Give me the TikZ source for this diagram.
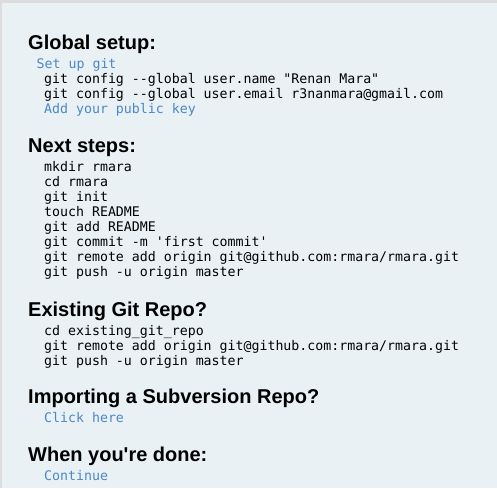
\documentclass[tikz,border=0pt]{standalone}
\usepackage{fontspec}
\setmainfont{Liberation Sans}[Ligatures=TeXOff]
\setmonofont{DejaVu Sans Mono}
\usepackage{xcolor}
\definecolor{framegray}{HTML}{DCDCDC}
\definecolor{pagebg}{HTML}{E9F1F5}
\definecolor{linkblue}{HTML}{4A88C9}
\newcommand{\headsize}{\fontsize{20}{24}\selectfont}
\newcommand{\codesize}{\fontsize{13.25}{15}\selectfont}

\begin{document}
\begin{tikzpicture}[x=1pt,y=-1pt]
            \fill[framegray] (0,0) rectangle (497,488);
            \fill[pagebg] (2,3) rectangle (497,488);
            \useasboundingbox (0,0) rectangle (497,488);

            \begin{scope}[every node/.style={anchor=base west,inner sep=0pt},
                heading/.style={font=\headsize\bfseries},
                code/.style={font=\codesize\ttfamily,text=black},
                link/.style={font=\codesize\ttfamily,text=linkblue}]
                % global setup
                \node[heading] (global) at (28,49) {Global setup:};
                \node[link] (setup) at (36.5,68) {Set up git};
                \node[code] (gname) at (44,83) {git config --global user.name "Renan Mara"};
                \node[code] (gmail) at (44,98) {git config --global user.email r3nanmara@gmail.com};
                \node[link] (key) at (44,113) {Add your public key};

                % next steps
                \node[heading] (next) at (28,152) {Next steps:};
                \node[code] (mkdir) at (44,171) {mkdir rmara};
                \node[code] (cd) at (44,186) {cd rmara};
                \node[code] (init) at (44,201) {git init};
                \node[code] (touch) at (44,216) {touch README};
                \node[code] (add) at (44,231) {git add README};
                \node[code] (commit) at (44,246) {git commit -m 'first commit'};
                \node[code] (remote) at (44,261) {git remote add origin git@github.com:rmara/rmara.git};
                \node[code] (push) at (44,276) {git push -u origin master};

                % existing repo
                \node[heading] (existing) at (28,316) {Existing Git Repo?};
                \node[code] (cdrepo) at (44,335) {cd existing\_git\_repo};
                \node[code] (remote2) at (44,350) {git remote add origin git@github.com:rmara/rmara.git};
                \node[code] (push2) at (44,365) {git push -u origin master};

                % subversion
                \node[heading] (svn) at (28,403) {Importing a Subversion Repo?};
                \node[link] (click) at (44,422) {Click here};

                % done
                \node[heading] (done) at (28,461) {When you're done:};
                \node[link] (cont) at (44,480) {Continue};
            \end{scope}
\end{tikzpicture}
\end{document}
